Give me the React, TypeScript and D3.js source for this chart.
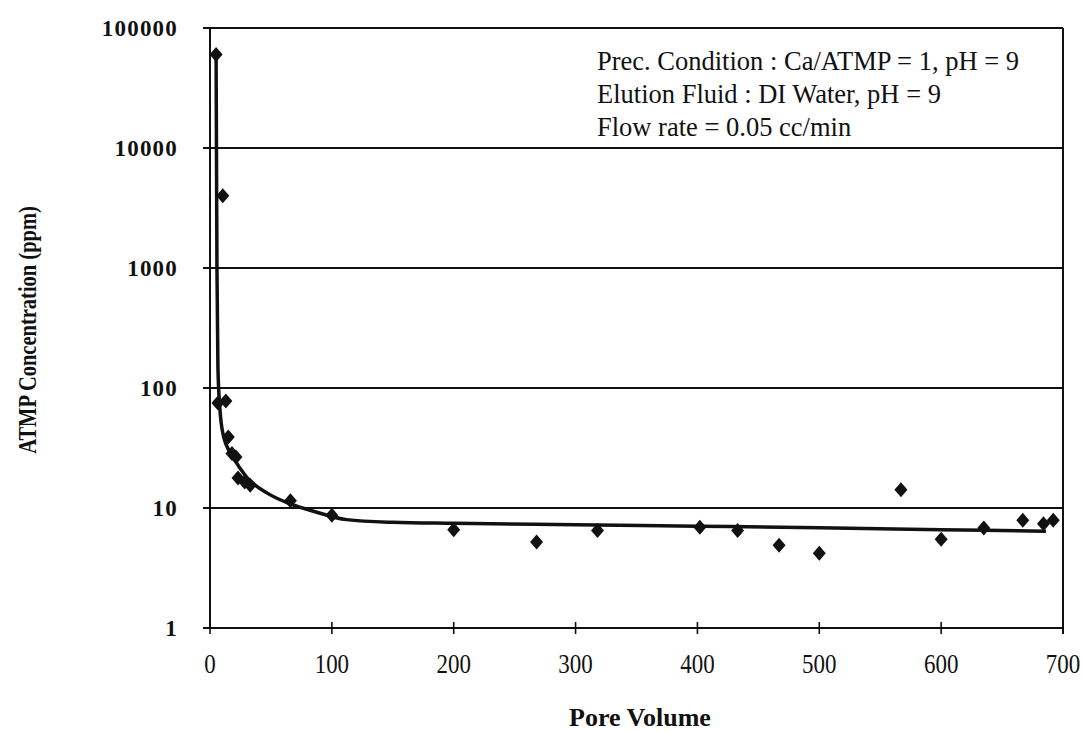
import React from "react";
import * as d3 from "d3";

// Measured elution data: pore volume vs. ATMP concentration (ppm)
const poreVolume = [5, 6.5, 10.5, 13, 15, 18, 21.3, 23, 28.5, 33, 66, 100, 200, 268, 318, 402, 433, 467, 500, 567, 600, 635, 667, 684, 692];
const concentration = [60000, 75, 4000, 78, 39, 28.5, 26.6, 17.8, 16.5, 15.5, 11.5, 8.7, 6.6, 5.2, 6.5, 6.9, 6.5, 4.9, 4.2, 14.2, 5.5, 6.8, 7.9, 7.4, 7.9];

// Fitted trend line
const trendX = [5, 5.3, 5.7, 6.5, 8, 11, 19, 30, 47, 66, 85, 112, 150, 200, 300, 400, 500, 600, 686];
const trendY = [60000, 10000, 1000, 150, 70, 40, 26.6, 18.1, 13.3, 10.8, 9.4, 8.0, 7.6, 7.45, 7.25, 7.05, 6.85, 6.6, 6.4];

const xTicks = [0, 100, 200, 300, 400, 500, 600, 700];
const yTicks = [1, 10, 100, 1000, 10000, 100000];

const notes = [
  "Prec. Condition : Ca/ATMP = 1, pH = 9",
  "Elution Fluid : DI Water, pH = 9",
  "Flow rate = 0.05 cc/min",
];

const W = 1084;
const H = 732;
const left = 210;
const right = 1063;
const top = 28;
const bottom = 628;
const ink = "#111";
const serif = "'Liberation Serif', 'Times New Roman', serif";

export default function App() {
  const x = d3.scaleLinear().domain([0, 700]).range([left, right]);
  const y = d3.scaleLog().domain([1, 100000]).range([bottom, top]);

  const trend = d3
    .line<number>()
    .x((_, i) => x(trendX[i]))
    .y((d) => y(d))
    .curve(d3.curveMonotoneX)(trendY) as string;

  const diamond = (cx: number, cy: number) =>
    `M${cx},${cy - 7.5}L${cx + 6.5},${cy}L${cx},${cy + 7.5}L${cx - 6.5},${cy}Z`;

  return (
    <svg
      width={W}
      height={H}
      style={{ position: "absolute", left: 0, top: 0, background: "#fff" }}
      fontFamily={serif}
    >
      <rect x={0} y={0} width={W} height={H} fill="#fff" />

      {/* horizontal gridlines and y ticks */}
      {yTicks.map((t) => (
        <line key={"g" + t} x1={left - 7} x2={right} y1={y(t)} y2={y(t)} stroke={ink} strokeWidth={2} />
      ))}
      {/* axes and frame */}
      <line x1={left} x2={left} y1={top} y2={bottom} stroke={ink} strokeWidth={2} />
      <line x1={right} x2={right} y1={top} y2={bottom + 6} stroke={ink} strokeWidth={2} />
      {xTicks.map((t) => (
        <line key={"xt" + t} x1={x(t)} x2={x(t)} y1={bottom - 6} y2={bottom + 6} stroke={ink} strokeWidth={1.6} />
      ))}

      {/* y tick labels */}
      {yTicks.map((t) => (
        <text
          key={"yl" + t}
          x={178}
          y={y(t)}
          textAnchor="end"
          dominantBaseline="central"
          fontSize={23}
          fontWeight="bold"
          letterSpacing={1.2}
          fill={ink}
        >
          {t}
        </text>
      ))}
      {/* x tick labels */}
      {xTicks.map((t) => (
        <text
          key={"xl" + t}
          transform={`translate(${x(t)},${673}) scale(0.82,1)`}
          textAnchor="middle"
          fontSize={28}
          fill={ink}
        >
          {t}
        </text>
      ))}

      {/* axis titles */}
      <text x={640} y={726} textAnchor="middle" fontSize={26} fontWeight="bold" fill={ink}>
        Pore Volume
      </text>
      <text
        transform={`translate(36,330) rotate(-90) scale(1,1.25)`}
        textAnchor="middle"
        fontSize={20.5}
        fontWeight="bold"
        fill={ink}
      >
        ATMP Concentration (ppm)
      </text>

      {/* trend line */}
      <path d={trend} fill="none" stroke={ink} strokeWidth={3.5} strokeLinejoin="round" />

      {/* data markers */}
      {poreVolume.map((pv, i) => (
        <path key={"p" + i} d={diamond(x(pv), y(concentration[i]))} fill={ink} />
      ))}

      {/* condition notes */}
      {notes.map((n, i) => (
        <text key={"n" + i} x={597} y={70 + i * 33} fontSize={26.5} fill={ink}>
          {n}
        </text>
      ))}
    </svg>
  );
}
